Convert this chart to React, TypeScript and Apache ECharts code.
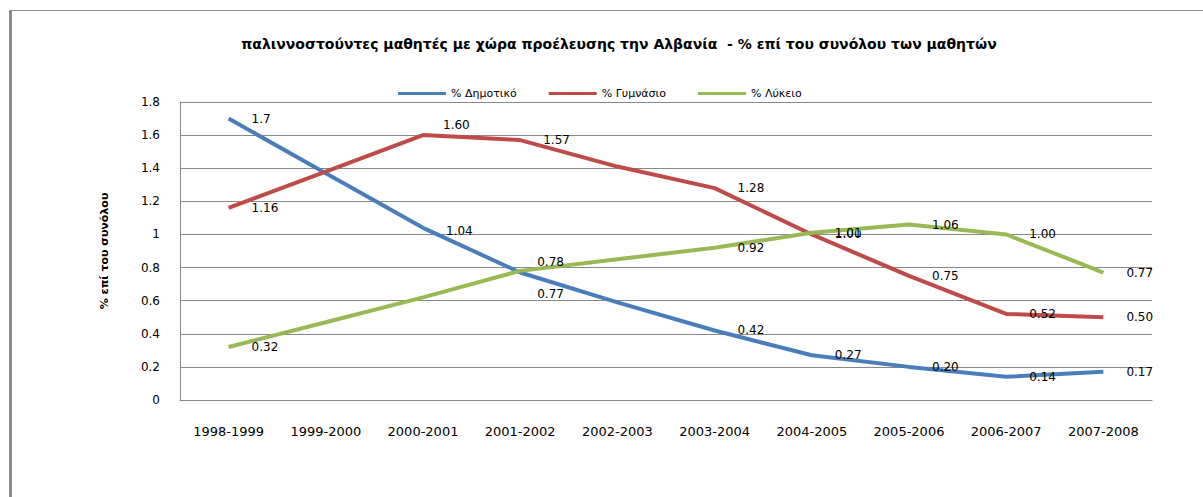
import React, { useEffect, useRef } from "react";
import * as echarts from "echarts";

const categories = [
  "1998-1999", "1999-2000", "2000-2001", "2001-2002", "2002-2003",
  "2003-2004", "2004-2005", "2005-2006", "2006-2007", "2007-2008",
];
const seriesNames = ["% Δημοτικό", "% Γυμνάσιο", "% Λύκειο"];
const dimotiko = [1.7, 1.37, 1.04, 0.77, 0.59, 0.42, 0.27, 0.2, 0.14, 0.17];
const gymnasio = [1.16, 1.38, 1.6, 1.57, 1.41, 1.28, 1.0, 0.75, 0.52, 0.5];
const lykeio = [0.32, 0.47, 0.62, 0.78, 0.85, 0.92, 1.01, 1.06, 1.0, 0.77];
const dimotikoLabels = ["1.7", null, "1.04", "0.77", null, "0.42", "0.27", "0.20", "0.14", "0.17"];
const gymnasioLabels = ["1.16", null, "1.60", "1.57", null, "1.28", "1.00", "0.75", "0.52", "0.50"];
const lykeioLabels = ["0.32", null, null, "0.78", null, "0.92", "1.01", "1.06", "1.00", "0.77"];
const yTicks = { min: 0, max: 1.8, interval: 0.2 };

const TITLE = "παλιννοστούντες μαθητές με χώρα προέλευσης την Αλβανία  - % επί του συνόλου των μαθητών";
const Y_NAME = "% επί του συνόλου";

const COLORS = ["#4A7EBB", "#BE4B48", "#98B954"];
const FONT = "DejaVu Sans, Verdana, sans-serif";

// label offset tweaks (style, not data): "series-point" -> [dx, dy]
const labelTweaks: Record<string, [number, number]> = {
  "0-2": [0, 3],
  "0-3": [-6, 21],
  "1-2": [-3, -10],
  "2-3": [-6, -9],
};

function buildSeries(idx: number, values: number[], labels: (string | null)[]) {
  return {
    name: seriesNames[idx],
    type: "line",
    data: values.map((v, i) => ({
      value: v,
      label: { show: labels[i] !== null },
    })),
    symbol: "circle",
    symbolSize: 0.01,
    showSymbol: true,
    smooth: false,
    lineStyle: { color: COLORS[idx], width: 4 },
    itemStyle: { color: COLORS[idx] },
    label: {
      show: true,
      position: "right",
      distance: 23,
      color: "#000",
      fontFamily: FONT,
      fontSize: 12,
      formatter: (p: any) => labels[p.dataIndex] ?? "",
    },
    labelLayout: (p: any) => {
      const t = labelTweaks[`${idx}-${p.dataIndex}`];
      return t ? { dx: t[0], dy: t[1], hideOverlap: false } : { hideOverlap: false };
    },
    emphasis: { disabled: true },
    z: 2 + idx,
  };
}

export default function App() {
  const ref = useRef<HTMLDivElement>(null);
  useEffect(() => {
    if (!ref.current) return;
    const chart = echarts.init(ref.current, null, { renderer: "svg" });
    chart.setOption({
      animation: false,
      backgroundColor: "#fff",
      title: {
        text: TITLE,
        left: 614,
        textAlign: "center",
        top: 32,
        textStyle: { fontFamily: FONT, fontSize: 14, fontWeight: "bold", color: "#000" },
      },
      legend: {
        top: 83,
        left: 393,
        itemWidth: 48,
        itemHeight: 3,
        itemGap: 32,
        icon: "rect",
        textStyle: { fontFamily: FONT, fontSize: 11, color: "#000" },
        data: seriesNames,
      },
      grid: { left: 180, right: 51, top: 102, bottom: 97, containLabel: false },
      xAxis: {
        type: "category",
        data: categories,
        boundaryGap: true,
        axisLine: { show: true, lineStyle: { color: "#888", width: 1 } },
        axisTick: { show: false },
        axisLabel: { margin: 25, fontFamily: FONT, fontSize: 13, color: "#000", interval: 0 },
        splitLine: { show: false },
      },
      yAxis: {
        type: "value",
        min: yTicks.min,
        max: yTicks.max,
        interval: yTicks.interval,
        name: Y_NAME,
        nameLocation: "middle",
        nameGap: 70,
        nameTextStyle: { fontFamily: FONT, fontSize: 11, fontWeight: "bold", color: "#000" },
        axisLine: { show: true, lineStyle: { color: "#888", width: 1 } },
        axisTick: { show: false },
        axisLabel: {
          margin: 20,
          fontFamily: FONT,
          fontSize: 12,
          color: "#000",
          formatter: (v: number) => (Math.round(v * 10) / 10).toString(),
        },
        splitLine: { show: true, lineStyle: { color: "#888", width: 1 } },
      },
      graphic: [
        { type: "line", shape: { x1: 9, y1: 10.5, x2: 1203, y2: 10.5 }, style: { stroke: "#8c8c8c", lineWidth: 1 } },
        { type: "rect", shape: { x: 9, y: 10, width: 3, height: 487 }, style: { fill: "#8c8c8c" } },
      ],
      series: [
        buildSeries(0, dimotiko, dimotikoLabels),
        buildSeries(1, gymnasio, gymnasioLabels),
        buildSeries(2, lykeio, lykeioLabels),
      ],
    });
    return () => chart.dispose();
  }, []);
  return (
    <div
      ref={ref}
      style={{ position: "fixed", left: 0, top: 0, width: 1203, height: 497 }}
    />
  );
}
